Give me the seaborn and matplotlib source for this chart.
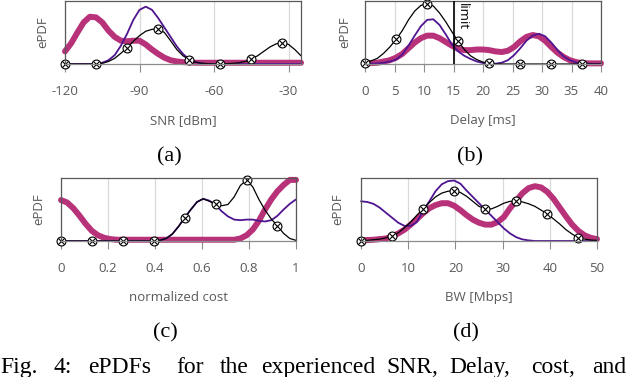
import numpy as np
import matplotlib
matplotlib.use("Agg")
import matplotlib.pyplot as plt
import seaborn as sns

# (a) SNR [dBm]
snr_x = np.arange(-120, -24.9, 2.5)
snr_magenta = [0.20, 0.33, 0.50, 0.66, 0.75, 0.74, 0.66, 0.53, 0.43, 0.37, 0.36, 0.37, 0.37,
               0.31, 0.23, 0.16, 0.10, 0.06, 0.04, 0.03, 0.025] + [0.02] * 18
snr_purple = [0, 0, 0, 0, 0, 0, 0.02, 0.06, 0.14, 0.29, 0.48, 0.70, 0.86, 0.91, 0.86, 0.73,
              0.58, 0.43, 0.28, 0.16, 0.07, 0.03, 0.01] + [0] * 16
snr_black = [0, 0, 0, 0, 0, 0, 0.01, 0.04, 0.09, 0.17, 0.26, 0.36, 0.45, 0.52, 0.55, 0.56,
             0.50, 0.37, 0.23, 0.13, 0.07, 0.03, 0.01, 0.005, 0, 0, 0.005, 0.01, 0.02, 0.04,
             0.08, 0.13, 0.20, 0.27, 0.32, 0.34, 0.31, 0.23, 0.13]

# (b) Delay [ms]
delay_x = np.linspace(0, 40, 39)
delay_magenta = [0.01, 0.015, 0.02, 0.04, 0.06, 0.10, 0.16, 0.25, 0.34, 0.41, 0.45, 0.45, 0.41,
                 0.35, 0.29, 0.24, 0.22, 0.22, 0.23, 0.23, 0.22, 0.20, 0.19, 0.21, 0.27, 0.36,
                 0.43, 0.46, 0.44, 0.37, 0.27, 0.18, 0.11, 0.06, 0.03, 0.015, 0.01, 0.01, 0.01]
delay_purple = [0, 0.005, 0.01, 0.02, 0.04, 0.07, 0.15, 0.29, 0.45, 0.60, 0.70, 0.71, 0.62,
                0.47, 0.31, 0.20, 0.13, 0.08, 0.04, 0.015, 0.005, 0.005, 0.02, 0.06, 0.14, 0.25,
                0.37, 0.45, 0.48, 0.44, 0.34, 0.22, 0.12, 0.06, 0.025, 0.01, 0.005, 0, 0]
delay_black = [0.02, 0.05, 0.09, 0.17, 0.27, 0.39, 0.53, 0.70, 0.84, 0.93, 0.96, 0.92, 0.81,
               0.67, 0.51, 0.36, 0.23, 0.13, 0.07, 0.03, 0.01] + [0] * 18
delay_limit = 15

# (c) normalized cost
cost_x = np.linspace(0, 1, 39)
cost_magenta = [0.65, 0.61, 0.52, 0.40, 0.27, 0.16, 0.09, 0.05, 0.03] + [0.02] * 20 + \
               [0.04, 0.09, 0.18, 0.32, 0.50, 0.66, 0.79, 0.89, 0.97, 0.97]
cost_purple = [0] * 16 + [0.01, 0.04, 0.11, 0.23, 0.37, 0.50, 0.62, 0.67, 0.64, 0.57, 0.47,
                          0.39, 0.34, 0.33, 0.34, 0.34, 0.32, 0.31, 0.33, 0.40, 0.50, 0.59, 0.66]
cost_black = [0] * 16 + [0.01, 0.04, 0.11, 0.23, 0.37, 0.50, 0.62, 0.67, 0.63, 0.59, 0.56,
                         0.58, 0.70, 0.88, 0.97, 0.86, 0.66, 0.49, 0.35, 0.24, 0.12, 0.04, 0.01]

# (d) BW [Mbps]
bw_x = np.linspace(0, 50, 39)
bw_magenta = [0.01, 0.015, 0.02, 0.03, 0.04, 0.07, 0.12, 0.18, 0.26, 0.35, 0.44, 0.52, 0.57,
              0.60, 0.60, 0.56, 0.49, 0.41, 0.34, 0.29, 0.26, 0.26, 0.30, 0.38, 0.52, 0.64,
              0.76, 0.84, 0.87, 0.85, 0.78, 0.67, 0.53, 0.39, 0.26, 0.16, 0.09, 0.05, 0.03]
bw_purple = [0.63, 0.62, 0.59, 0.53, 0.45, 0.37, 0.29, 0.24, 0.24, 0.30, 0.48, 0.63, 0.79,
             0.90, 0.95, 0.96, 0.91, 0.80, 0.70, 0.60, 0.50, 0.40, 0.30, 0.20, 0.12, 0.06,
             0.025, 0.01] + [0] * 11
bw_black = [0, 0.01, 0.02, 0.03, 0.05, 0.08, 0.13, 0.21, 0.30, 0.41, 0.51, 0.61, 0.70, 0.76,
            0.79, 0.80, 0.77, 0.71, 0.63, 0.55, 0.51, 0.51, 0.55, 0.60, 0.63, 0.63, 0.62, 0.59,
            0.55, 0.49, 0.43, 0.35, 0.27, 0.18, 0.11, 0.05, 0.03, 0.015, 0.01]

MAGENTA = "#b8327a"
PURPLE = "#4f1590"
TXT = "#595959"

sns.set_theme(style="white")
plt.rcParams['font.family'] = ['Open Sans', 'DejaVu Sans']

W, H = 640, 377
fig = plt.figure(figsize=(W / 100, H / 100), dpi=100)


def make_axes(left, right, top, bottom):
    return fig.add_axes([left / W, 1 - bottom / H, (right - left) / W, (bottom - top) / H])


def draw_panel(ax, x, magenta, purple, black, xlim, xticks, xticklabels, xlabel, ylab_x):
    sns.lineplot(x=x, y=magenta, color=MAGENTA, lw=4.3, ax=ax, clip_on=False)
    sns.lineplot(x=x, y=purple, color=PURPLE, lw=1.3, ax=ax, clip_on=False)
    sns.lineplot(x=x, y=black, color='black', lw=0.9, marker='o', markevery=5, ms=6.4,
                 mfc='white', mec='black', mew=0.8, ax=ax, clip_on=False)
    sns.lineplot(x=x, y=black, color='black', lw=0, marker='x', markevery=5, ms=4.5,
                 mec='black', mew=0.8, ax=ax, clip_on=False)
    ax.set_xlim(*xlim)
    ax.set_ylim(0, 1)
    ax.set_xticks(xticks)
    ax.set_xticklabels(xticklabels)
    ax.set_yticks([])
    ax.grid(axis='x', color='#d9d9d9', lw=0.9)
    ax.set_axisbelow(True)
    for side in ['left', 'top', 'right']:
        ax.spines[side].set_color('#595959')
        ax.spines[side].set_linewidth(0.9)
    ax.spines['bottom'].set_color('#8c8c8c')
    ax.spines['bottom'].set_linewidth(0.9)
    ax.tick_params(axis='x', direction='out', length=5.8, width=0.8, color='#8c8c8c',
                   pad=9, labelsize=9.5, labelcolor=TXT, bottom=True)
    ax.set_xlabel(xlabel, fontsize=9.5, color=TXT)
    ax.xaxis.set_label_coords(0.5, -0.9)
    ax.xaxis.label.set_va('center')
    ax.set_ylabel('ePDF', fontsize=9.5, color=TXT)
    ax.yaxis.set_label_coords(ylab_x, 0.5)
    ax.yaxis.label.set_va('center')


ax_a = make_axes(65, 301, 1, 64)
draw_panel(ax_a, snr_x, snr_magenta, snr_purple, snr_black, (-120, -25),
           [-120, -90, -60, -30], ['-120', '-90', '-60', '-30'], 'SNR [dBm]', -0.093)

ax_b = make_axes(365, 601, 1, 64)
draw_panel(ax_b, delay_x, delay_magenta, delay_purple, delay_black, (0, 40),
           list(range(0, 41, 5)), [str(v) for v in range(0, 41, 5)], 'Delay [ms]', -0.085)
ax_b.axvline(delay_limit, color='black', lw=1.2, zorder=5)
ax_b.text(delay_limit + 0.4, 0.97, 'limit', rotation=270, va='top', ha='left',
          fontsize=9.5, color='black')

ax_c = make_axes(61, 296, 178, 241)
draw_panel(ax_c, cost_x, cost_magenta, cost_purple, cost_black, (0, 1),
           [0, 0.2, 0.4, 0.6, 0.8, 1], ['0', '0.2', '0.4', '0.6', '0.8', '1'],
           'normalized cost', -0.094)

ax_d = make_axes(361, 597, 178, 241)
draw_panel(ax_d, bw_x, bw_magenta, bw_purple, bw_black, (0, 50),
           list(range(0, 51, 10)), [str(v) for v in range(0, 51, 10)], 'BW [Mbps]', -0.097)

serif = ['Liberation Serif', 'DejaVu Serif']
for lab, cx, cy in [('(a)', 169, 157), ('(b)', 470, 157), ('(c)', 165, 333), ('(d)', 466, 333)]:
    fig.text(cx / W, 1 - cy / H, lab, ha='center', va='center', fontsize=16,
             family=serif, color='black')

caption = ['Fig.', '4:', 'ePDFs', 'for', 'the', 'experienced', 'SNR,', 'Delay,', 'cost,', 'and']
caption_x = [0, 53, 88, 176, 220, 261, 386, 449, 531, 592]
for word, wx in zip(caption, caption_x):
    fig.text(wx / W, 1 - 373 / H, word, ha='left', va='baseline', fontsize=17,
             family=serif, color='black')

fig.savefig('out.png', dpi=100)
